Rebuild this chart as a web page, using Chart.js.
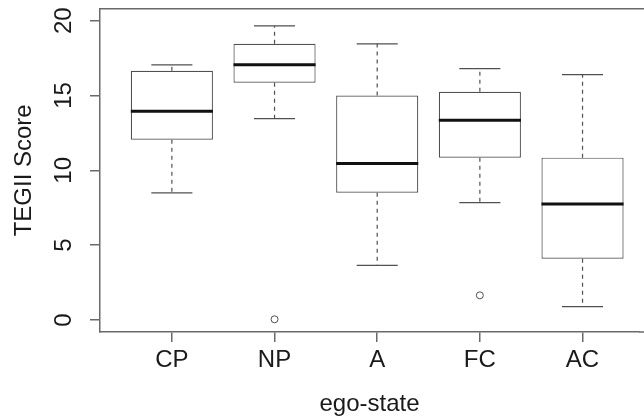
<!DOCTYPE html>
<html>
<head>
<meta charset="utf-8">
<script src="https://cdn.jsdelivr.net/npm/chart.js@4.4.1/dist/chart.umd.min.js"></script>
<style>
html, body { margin: 0; padding: 0; background: #fff; overflow: hidden; }
#wrap { width: 644px; height: 417px; }
</style>
</head>
<body>
<div id="wrap"><canvas id="myChart"></canvas></div>
<script>
// boxplot stats per ego-state
const categories = ['CP', 'NP', 'A', 'FC', 'AC'];
const lowWhisker = [8.5, 13.45, 3.65, 7.85, 0.9];
const q1 = [12.05, 15.85, 8.5, 10.85, 4.1];
const medians = [13.95, 17.05, 10.45, 13.35, 7.75];
const q3 = [16.65, 18.45, 15.0, 15.25, 10.85];
const highWhisker = [17.05, 19.65, 18.45, 16.8, 16.4];
const outlierCats = ['NP', 'FC'];
const outlierValues = [0.05, 1.65];
const yTicks = [0, 5, 10, 15, 20];

const positions = categories.map((c, i) => i + 1);
const font = { family: "'Liberation Sans', Arial, sans-serif", size: 24 };
const lineColor = '#505050';

// build the line pieces (null y breaks the line between boxes)
const medianPts = [], whiskerPts = [], staplePts = [];
positions.forEach((p, i) => {
    medianPts.push({ x: p - 0.4, y: medians[i] }, { x: p + 0.4, y: medians[i] }, { x: p, y: null });
    whiskerPts.push({ x: p, y: q3[i] }, { x: p, y: highWhisker[i] }, { x: p, y: null });
    whiskerPts.push({ x: p, y: q1[i] }, { x: p, y: lowWhisker[i] }, { x: p, y: null });
    staplePts.push({ x: p - 0.2, y: highWhisker[i] }, { x: p + 0.2, y: highWhisker[i] }, { x: p, y: null });
    staplePts.push({ x: p - 0.2, y: lowWhisker[i] }, { x: p + 0.2, y: lowWhisker[i] }, { x: p, y: null });
});
const outlierPts = outlierCats.map((c, i) => ({ x: categories.indexOf(c) + 1, y: outlierValues[i] }));

const framePlugin = {
    id: 'frame',
    afterDraw(chart) {
        const a = chart.chartArea, ctx = chart.ctx;
        ctx.save();
        ctx.strokeStyle = '#6a6a6a';
        ctx.lineWidth = 1.5;
        ctx.beginPath();
        ctx.moveTo(a.left, a.top);
        ctx.lineTo(chart.width, a.top);
        ctx.moveTo(a.right, a.bottom);
        ctx.lineTo(chart.width, a.bottom);
        ctx.stroke();
        ctx.restore();
    }
};

var ctx = document.getElementById('myChart').getContext('2d');
var myChart = new Chart(ctx, {
    type: 'bar',
    data: {
        datasets: [{
            type: 'line',
            data: medianPts,
            borderColor: '#111',
            borderWidth: 3,
            pointRadius: 0,
            spanGaps: false,
            order: 0
        }, {
            type: 'scatter',
            data: outlierPts,
            pointStyle: 'circle',
            pointRadius: 3.5,
            backgroundColor: '#fff',
            borderColor: lineColor,
            borderWidth: 1,
            order: 1
        }, {
            type: 'line',
            data: staplePts,
            borderColor: lineColor,
            borderWidth: 1.2,
            pointRadius: 0,
            spanGaps: false,
            order: 2
        }, {
            type: 'line',
            data: whiskerPts,
            borderColor: lineColor,
            borderWidth: 1.2,
            borderDash: [4, 4],
            pointRadius: 0,
            spanGaps: false,
            order: 3
        }, {
            type: 'bar',
            data: positions.map((p, i) => ({ x: p, y: [q1[i], q3[i]] })),
            backgroundColor: '#fff',
            borderColor: lineColor,
            borderWidth: 1.2,
            borderSkipped: false,
            barPercentage: 0.8,
            categoryPercentage: 1,
            order: 4
        }]
    },
    options: {
        responsive: true,
        maintainAspectRatio: false,
        animation: false,
        layout: { padding: { top: 8.7, left: 0, right: 0, bottom: 0 } },
        plugins: {
            legend: { display: false },
            tooltip: { enabled: false }
        },
        scales: {
            x: {
                type: 'linear',
                offset: false,
                min: 0.3,
                max: 5.55,
                afterBuildTicks: s => { s.ticks = positions.map(v => ({ value: v })); },
                afterFit: s => { s.height = 85; s.paddingLeft = 0; s.paddingRight = 0; },
                ticks: {
                    callback: v => categories[Math.round(v) - 1],
                    font: font,
                    color: '#1a1a1a',
                    padding: 4,
                    autoSkip: false,
                    maxRotation: 0
                },
                grid: { offset: false, drawOnChartArea: false, drawTicks: true, tickLength: 10, color: '#6a6a6a', lineWidth: 1.5 },
                border: { display: true, color: '#6a6a6a', width: 1.5 },
                title: { display: true, text: 'ego-state', font: font, color: '#1a1a1a', padding: { top: 0, bottom: -2 } }
            },
            y: {
                min: -0.8,
                max: 20.8,
                afterBuildTicks: s => { s.ticks = yTicks.map(v => ({ value: v })); },
                afterFit: s => { s.width = 100; s.paddingTop = 0; s.paddingBottom = 0; },
                ticks: {
                    font: font,
                    color: '#1a1a1a',
                    minRotation: 90,
                    maxRotation: 90,
                    crossAlign: 'center',
                    padding: 12
                },
                grid: { drawOnChartArea: false, drawTicks: true, tickLength: 10, color: '#6a6a6a', lineWidth: 1.5 },
                border: { display: true, color: '#6a6a6a', width: 1.5 },
                title: { display: true, text: 'TEGII Score', font: font, color: '#1a1a1a', padding: { top: 10, bottom: 0 } }
            }
        }
    },
    plugins: [framePlugin]
});
</script>
</body>
</html>
